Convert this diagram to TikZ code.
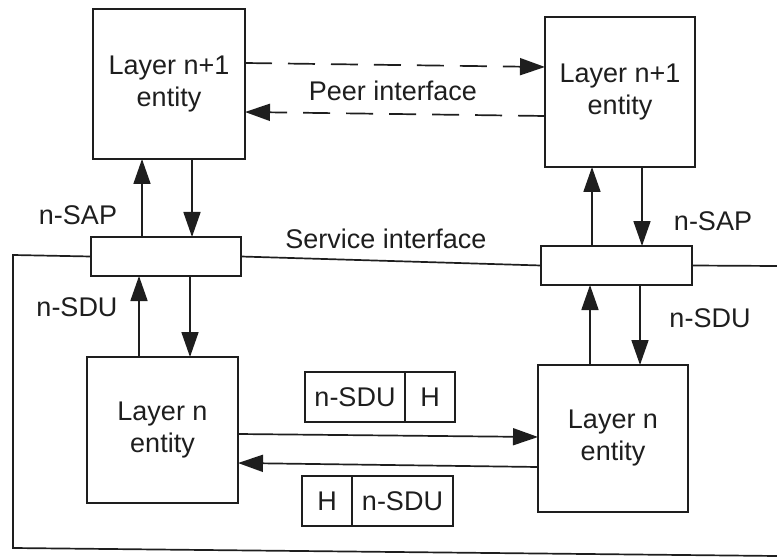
\documentclass[tikz,border=0pt]{standalone}
\usepackage{fontspec}
\setmainfont{Liberation Sans}
\usetikzlibrary{arrows.meta}
\definecolor{ink}{RGB}{30,30,30}
\begin{document}
\begin{tikzpicture}[x=1pt,y=-1pt,
  every node/.style={font=\fontsize{27}{32}\selectfont, text=ink},
  ebox/.style={draw=ink, line width=1.7pt, inner sep=0pt, outer sep=0pt, align=center},
  sapbox/.style={draw=ink, line width=1.7pt, inner sep=0pt, outer sep=0pt, minimum width=150pt, minimum height=39pt},
  pbox/.style={draw=ink, line width=1.6pt, inner sep=0pt, outer sep=0pt, minimum height=50pt},
  conn/.style={draw=ink, line width=1.7pt},
  arr/.style={conn, -{Triangle[length=25pt,width=17pt]}},
  darr/.style={arr, dash pattern=on 27pt off 16pt}
]
\useasboundingbox (0,0) rectangle (777,559);
% entities
\node[ebox, minimum width=152pt, minimum height=150pt] (l1) at (169,84) {Layer n+1\\entity};
\node[ebox, minimum width=150pt, minimum height=150pt] (r1) at (620,92) {Layer n+1\\entity};
\node[ebox, minimum width=151pt, minimum height=146pt] (l0) at (162.5,430) {Layer n\\entity};
\node[ebox, minimum width=150pt, minimum height=147pt] (r0) at (613,438.5) {Layer n\\entity};
% SAPs
\node[sapbox] (lsap) at (166,256.5) {};
\node[sapbox, minimum width=151pt] (rsap) at (616.5,265.5) {};
% frame
\coordinate (ftl) at (13,255);
\coordinate (fbl) at (13,548);
\coordinate (fbr) at (777,556);
\coordinate (fr) at (777,266);
\draw[conn] (lsap.west) -- (ftl) -- (fbl) -- (fbr);
\draw[conn] (rsap.east) -- (fr);
\draw[conn] (lsap.east) -- (rsap.west);
% peer dashed arrows
\draw[darr] (l1.east |- 0,63) -- (r1.west |- 0,67);
\draw[darr] (r1.west |- 0,116) -- (l1.east |- 0,112);
% vertical arrows left
\draw[arr] (lsap.north -| 142,0) -- (l1.south -| 142,0);
\draw[arr] (l1.south -| 192,0) -- (lsap.north -| 192,0);
\draw[arr] (l0.north -| 139,0) -- (lsap.south -| 139,0);
\draw[arr] (lsap.south -| 190,0) -- (l0.north -| 190,0);
% vertical arrows right
\draw[arr] (rsap.north -| 592,0) -- (r1.south -| 592,0);
\draw[arr] (r1.south -| 642,0) -- (rsap.north -| 642,0);
\draw[arr] (r0.north -| 590,0) -- (rsap.south -| 590,0);
\draw[arr] (rsap.south -| 640,0) -- (r0.north -| 640,0);
% horizontal arrows bottom
\draw[arr] (l0.east |- 0,434) -- (r0.west |- 0,437);
\draw[arr] (r0.west |- 0,467) -- (l0.east |- 0,463);
% packets
\node[pbox, minimum width=100pt] (p1a) at (355,397) {n-SDU};
\node[pbox, minimum width=50pt, anchor=west] (p1b) at (p1a.east) {H};
\node[pbox, minimum width=50pt] (p2a) at (327,501) {H};
\node[pbox, minimum width=101pt, anchor=west] (p2b) at (p2a.east) {n-SDU};
% labels
\node (peer) at (393,91) {Peer interface};
\node (serv) at (386,239) {Service interface};
\node (sapl) at (78,215) {n-SAP};
\node (sapr) at (713,221) {n-SAP};
\node (sdul) at (77,307) {n-SDU};
\node (sdur) at (710,318) {n-SDU};
\end{tikzpicture}
\end{document}
